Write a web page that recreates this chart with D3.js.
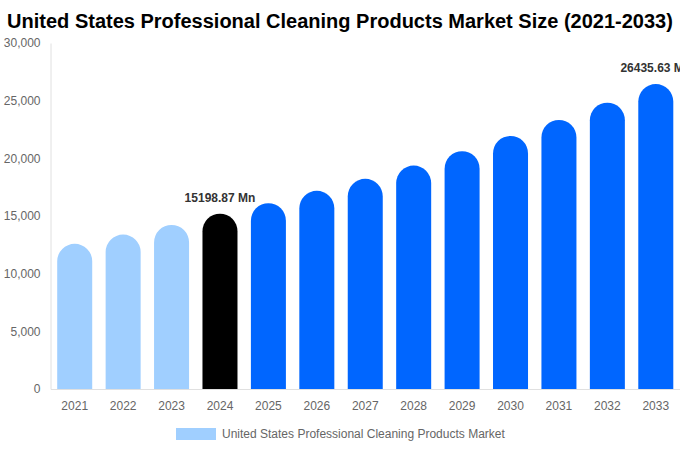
<!DOCTYPE html>
<html>
<head>
<meta charset="utf-8">
<script src="https://cdn.jsdelivr.net/npm/d3@7"></script>
<style>
  body { margin: 0; background: #fff; }
  svg { display: block; font-family: "Liberation Sans", Arial, sans-serif; }
</style>
</head>
<body>
<div id="chart"></div>
<script>
// Chart data
const years = ["2021", "2022", "2023", "2024", "2025", "2026", "2027", "2028", "2029", "2030", "2031", "2032", "2033"];
const marketSize = [12590, 13390, 14230, 15198.87, 16115, 17180, 18220, 19370, 20620, 21945, 23330, 24830, 26435.63];
const yTicks = [0, 5000, 10000, 15000, 20000, 25000, 30000];
const labelledYears = ["2024", "2033"];
const seriesName = "United States Professional Cleaning Products Market";

const W = 680, H = 450;
const margin = { top: 43, right: 0, bottom: 61, left: 50.5 };
const plotH = H - margin.top - margin.bottom;

const svg = d3.select("#chart").append("svg")
    .attr("width", W)
    .attr("height", H);

// Title
svg.append("text")
    .attr("x", W / 2)
    .attr("y", 28)
    .attr("text-anchor", "middle")
    .style("font-size", "20px")
    .style("font-weight", "bold")
    .style("fill", "#000")
    .text("United States Professional Cleaning Products Market Size (2021-2033)");

const x = d3.scaleBand()
    .domain(years)
    .range([margin.left, W - margin.right])
    .paddingInner(0.277)
    .paddingOuter(0.1385);

const y = d3.scaleLinear()
    .domain([0, 30000])
    .range([margin.top + plotH, margin.top]);

// Axes
const yAxis = svg.append("g")
    .attr("transform", `translate(${margin.left}, 0)`)
    .call(d3.axisLeft(y).tickValues(yTicks).tickSize(0).tickPadding(10).tickFormat(d3.format(",")));
yAxis.select(".domain").attr("stroke", "#e0e0e0");
yAxis.selectAll("text").style("font-size", "12px").style("fill", "#666").style("font-family", "Liberation Sans, Arial, sans-serif");

const xAxis = svg.append("g")
    .attr("transform", `translate(0, ${y(0)})`)
    .call(d3.axisBottom(x).tickSize(0).tickPadding(12));
xAxis.select(".domain").attr("stroke", "#e0e0e0");
xAxis.selectAll("text").style("font-size", "12px").style("fill", "#666").style("font-family", "Liberation Sans, Arial, sans-serif");

// Colours by period
function barColor(yr) {
    if (+yr < 2024) return "#a0cfff";
    if (+yr === 2024) return "#000000";
    return "#0066ff";
}

// Bars with round tops
function barPath(yr, v) {
    const x0 = x(yr), w = x.bandwidth(), r = w / 2;
    const top = y(v), bottom = y(0);
    return `M${x0},${bottom} L${x0},${top + r} A${r},${r} 0 0 1 ${x0 + w},${top + r} L${x0 + w},${bottom} Z`;
}

const data = years.map((yr, i) => ({ year: yr, value: marketSize[i] }));

svg.append("g").selectAll("path")
    .data(data)
    .join("path")
    .attr("d", d => barPath(d.year, d.value))
    .attr("fill", d => barColor(d.year));

// Value labels
svg.append("g").selectAll("text")
    .data(data.filter(d => labelledYears.includes(d.year)))
    .join("text")
    .attr("x", d => x(d.year) + x.bandwidth() / 2)
    .attr("y", d => y(d.value) - 12)
    .attr("text-anchor", "middle")
    .style("font-size", "12px")
    .style("font-weight", "bold")
    .style("fill", "#333")
    .text(d => d3.format(".2f")(d.value) + " Mn");

// Legend
const legend = svg.append("g").attr("transform", "translate(176, 428)");
legend.append("rect")
    .attr("width", 40)
    .attr("height", 12)
    .attr("fill", "#a0cfff");
legend.append("text")
    .attr("x", 46)
    .attr("y", 10)
    .style("font-size", "12px")
    .style("fill", "#666")
    .text(seriesName);
</script>
</body>
</html>
